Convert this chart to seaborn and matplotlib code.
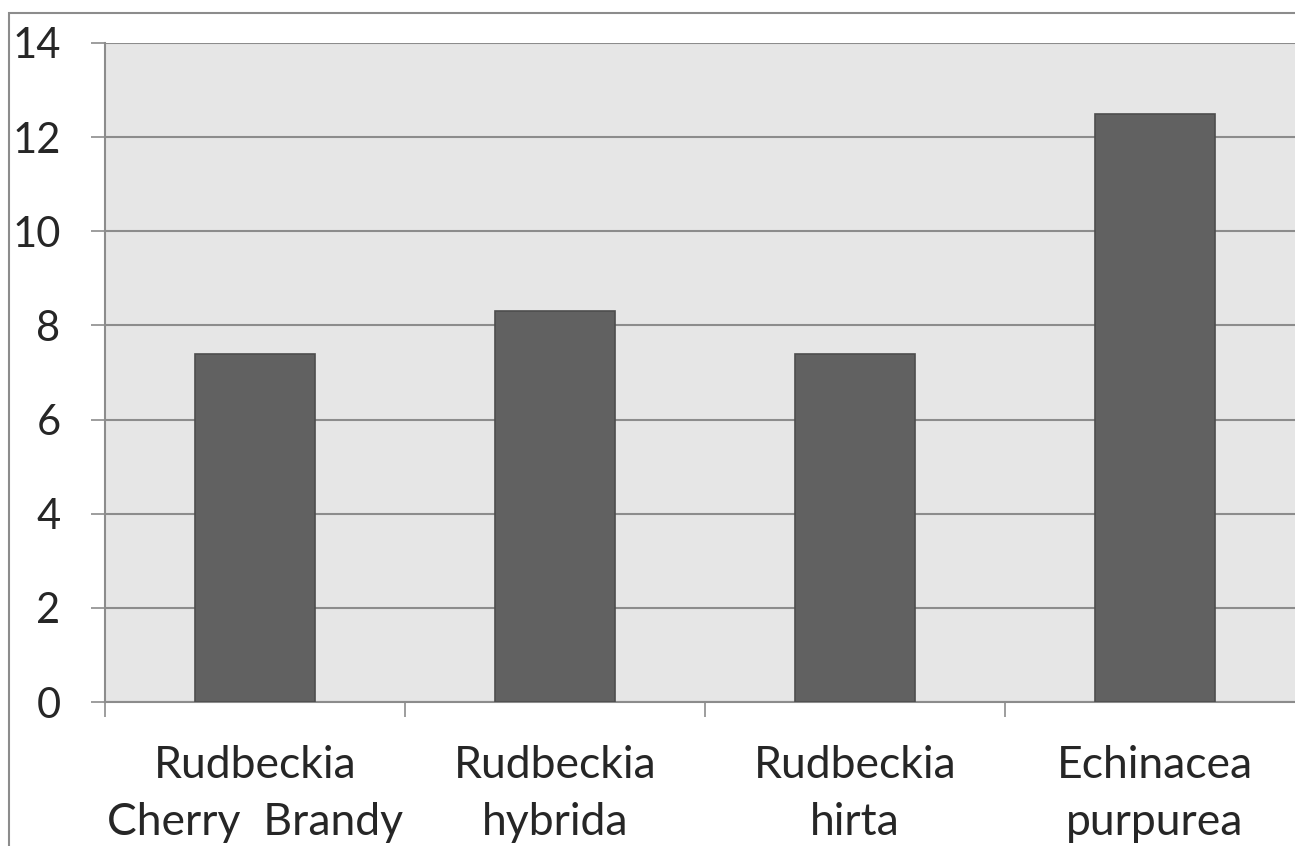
import matplotlib
matplotlib.use("Agg")
import matplotlib.pyplot as plt
import seaborn as sns
import pandas as pd
from matplotlib.patches import Rectangle
from matplotlib.ticker import FixedLocator

categories = ["Rudbeckia\nCherry  Brandy", "Rudbeckia\nhybrida", "Rudbeckia\nhirta", "Echinacea\npurpurea"]
values = [7.4, 8.3, 7.4, 12.5]
y_ticks = [0, 2, 4, 6, 8, 10, 12, 14]

GRID = "#8c8c8c"
BG = "#e6e6e6"
BAR = "#616161"

sns.set_style("white")
plt.rcParams['font.family'] = ['Lato', 'DejaVu Sans']

df = pd.DataFrame({"name": categories, "value": values})

fig = plt.figure(figsize=(12.95, 8.46), dpi=100)
ax = fig.add_axes([105 / 1295, (846 - 702) / 846, 1200 / 1295, (702 - 43) / 846])
ax.set_facecolor(BG)

sns.barplot(data=df, x="name", y="value", ax=ax, color=BAR, width=0.4,
            saturation=1, edgecolor="#4d4d4d", linewidth=1.2, zorder=3)

ax.set_ylim(0, 14)
ax.set_xlim(-0.5, 3.5)
ax.set_yticks(y_ticks)
ax.yaxis.grid(True, color=GRID, linewidth=1.5, zorder=0)
ax.set_axisbelow(True)

# category boundary ticks (major) and centred labels (minor)
ax.xaxis.set_major_locator(FixedLocator([-0.5, 0.5, 1.5, 2.5, 3.5]))
ax.xaxis.set_major_formatter(plt.NullFormatter())
ax.xaxis.set_minor_locator(FixedLocator(range(len(categories))))
ax.set_xticklabels(categories, minor=True)
ax.tick_params(axis="x", which="major", bottom=True, length=11, width=1.2, color=GRID, direction="out")
ax.tick_params(axis="x", which="minor", bottom=True, length=0, pad=31, labelsize=32)
ax.tick_params(axis="y", left=True, length=10, width=1.2, color=GRID, direction="out", pad=22, labelsize=30)
for lab in ax.get_xticklabels(minor=True):
    lab.set_linespacing(1.47)

ax.set_xlabel("")
ax.set_ylabel("")
for side in ["top", "right"]:
    ax.spines[side].set_visible(False)
for side in ["left", "bottom"]:
    ax.spines[side].set_color(GRID)
    ax.spines[side].set_linewidth(1.5)

# outer chart frame (cut off at right and bottom)
fig.patches.append(Rectangle((9 / 1295, -0.1), 1.2, (846 - 13) / 846 + 0.1,
                             transform=fig.transFigure, fill=False,
                             edgecolor=GRID, linewidth=1.5))

plt.savefig("out.png", dpi=100)
plt.close()
